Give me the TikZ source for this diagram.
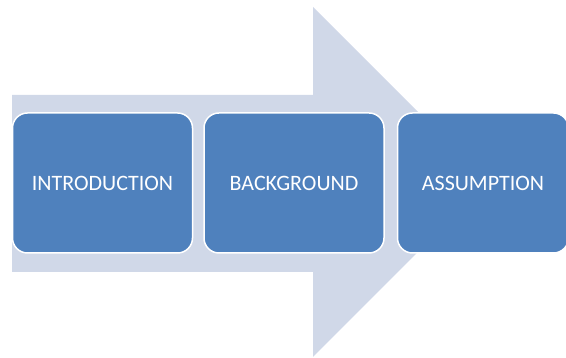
\documentclass[tikz,border=0pt]{standalone}
\usepackage{fontspec}
\setmainfont{Carlito}
\usetikzlibrary{positioning}
\definecolor{arrowfill}{HTML}{D0D8E8}
\definecolor{boxfill}{HTML}{4F81BD}
\tikzset{
    stage/.style={shape=rectangle,rounded corners=15pt,draw=white,line width=1.5pt,
        fill=boxfill,text=white,minimum width=180pt,minimum height=140pt,
        font=\fontsize{22}{26}\selectfont}
}
\begin{document}
\begin{tikzpicture}[x=1pt,y=1pt]
        \useasboundingbox (0,0) rectangle (566,358);
        \fill[arrowfill] (12,86) -- (12,263) -- (313,263) -- (313,351) -- (488,176)
            -- (313,1) -- (313,86) -- cycle;
        \node (INTRODUCTION) [stage] at (102.5,175) {INTRODUCTION};
        \node (BACKGROUND) [stage,right=10pt of INTRODUCTION] {BACKGROUND};
        \node (ASSUMPTION) [stage,right=12pt of BACKGROUND,minimum width=171pt] {ASSUMPTION};
    \end{tikzpicture}
\end{document}
